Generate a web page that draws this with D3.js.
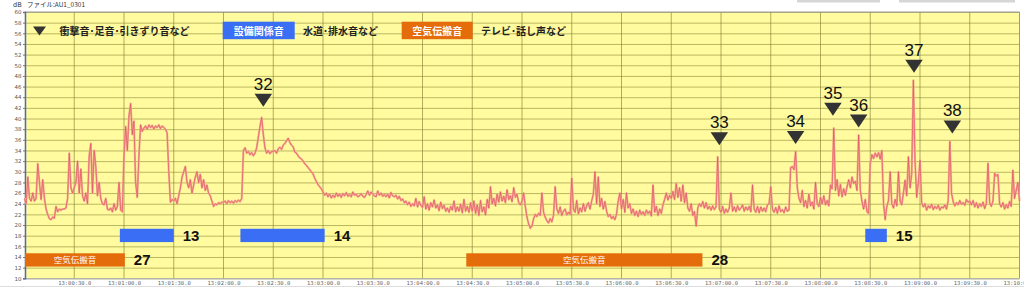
<!DOCTYPE html>
<html>
<head>
<meta charset="utf-8">
<script src="https://cdn.jsdelivr.net/npm/d3@7"></script>
<style>
  html, body { margin: 0; padding: 0; background: #fff; }
  svg { display: block; }
</style>
</head>
<body>
<svg id="chart"></svg>
<script>
"use strict";

// =================== DATA ===================
// sound level (dB), one value per second from 13:00:00
const levels = [
  25,24,29,25,24.5,26,24.5,25,31.5,28,24.8,28.5,25,23,22,21.2,21,21.5,21.3,23.5,22.5,23,22.8,23,23,23.2,25,33.5,27,26,
  27,28,32,26,30.5,25.5,24.5,26,24,33,35.3,26,34,31,25.5,28,25,24,23.8,25,23,22.8,23.2,22.5,24,22.8,23.5,28,22.8,22.5,
  33,38.5,34,40.5,42.8,37,39.5,28,25.2,33,38.8,37.6,38.2,38.6,38,38.8,38.3,38.7,38,38.6,38.3,38.8,38.1,38.6,38.3,38,37.3,30,24.3,24.8,
  24.5,25,24,25.5,27,29,30,31,28,27,28.5,26,27.5,29,30,28,29.5,27,28.5,26.5,27.5,26,25.5,24.5,23.5,24,23.8,24.2,24,24.3,
  24.3,24.5,24,24.6,24.2,24.5,24.1,24.6,24.3,24.7,24.4,25,34,34.5,33.5,33.8,33.2,33.6,33,33.5,34.5,36.5,38.5,40.2,37,34.5,33.5,34,33.4,33.8,
  33.8,34,33.5,34.3,34.6,34.2,35,35.3,35.8,36.3,35.5,35,34.7,33.7,33.5,33,32.6,32.4,32,31.5,31.2,30.8,30.4,30,29.6,28.8,28.2,27.6,27.2,26.8,
  26.2,25.6,26,25.3,25.8,25.1,25.6,25.2,26,25.4,25.8,25.2,25.9,25.5,26.1,25.4,25.7,25.3,26.2,25.6,25.8,25.3,25.5,25.9,25.4,25.2,25.7,26.4,25.6,26.2,
  25.8,25.5,25.3,26.4,25.6,26,25.4,25.7,25.3,25.8,25.1,26.1,25.5,25.3,25.6,24.9,25.4,24.6,24.9,24.2,24.5,23.8,24.3,23.5,24,23.6,25,23.4,24.4,23.7,
  23.3,25.3,23,24,22.8,24.2,23.4,24.7,23.2,23.8,22.7,24.3,23.1,23.7,22.6,23.2,22.4,23.5,22.8,24.5,22.5,23.4,22.6,23.9,22.3,24.8,22.6,23.5,22.4,24.2,
  22.6,24.5,22.2,23.8,21.8,24.6,22.5,23.4,21.9,24.8,23.2,27.2,24,25,23.6,25.8,24.3,26.2,24.5,25.4,24.2,26.6,24.8,25.5,24.4,27,25.2,25.8,24.2,23.8,
  24.5,26,23.5,21.5,20.2,19.4,19.8,21.2,22,21.6,22.2,21.8,26,22.4,21.5,20.8,20.4,21.2,20.6,21.8,27.2,23,22.2,23.4,21.8,22.6,23,21.9,22.4,22,
  28.8,23,22.4,24.6,22.1,23.2,22.5,24,22.6,23.6,24.2,23,24.5,25.8,30,24,29,23.5,25,23,24.4,22.6,21.6,22,21.2,21.6,21,22,24.5,26,
  23,24.8,22.4,26,23.2,24,22.2,23,21.8,22.6,21.6,22.8,22,22.5,21.8,22.8,22.2,22.6,21.7,27.5,22.4,23.5,21.8,23,22.2,23.8,24.8,26,24.7,25.6,
  25,26.3,24.8,27.8,25.2,27,24.5,27.5,24.2,26,23.2,22.6,24,21.8,22.5,19.8,23.2,24,23.5,24.4,23.2,24.2,23,23.5,22.8,23.6,22.9,23.4,32.8,23,
  22.4,23.5,22.2,23,22.4,23.2,26,22.6,23.4,22.5,23.6,22.8,23.2,23.8,22.6,23.4,22.8,23.5,22.5,27.5,23,22.4,23.5,22.3,23.4,22.6,23.2,22.5,23.8,24,
  27.2,23,22.4,23.3,22.2,23.6,22.5,22.9,22.3,23.4,22.6,22.8,30.8,31,30.4,33.8,27,25,24.2,26.5,23.5,24.6,23.2,25.8,23.6,24.3,23,28,24,23.5,
  25.2,24,25.5,23.8,24.6,23.6,27.5,26.8,38.2,26.5,28.5,25.5,27.6,25.3,26.8,25.6,27.2,28.5,27,29,27.8,28.2,26.5,36.9,26.5,24.5,23,24.8,22.5,22.2,
  31.5,33.2,32.5,33.5,32.8,33.6,32.4,34,24,21,23.5,24.6,30,24,23.2,24.8,23.6,30,24.5,23.8,26,28.4,25.5,32.8,27,29.5,47.2,32,25.2,28,
  32.2,24.2,23.4,24,22.8,23.6,23.2,23.9,22.9,23.5,23.1,23.7,22.8,23.4,23.2,23.8,23,24.6,35.7,26,24.4,23.6,24.2,23.8,24.6,23.9,24.2,23.7,24.8,24.3,
  24.5,23.8,24.6,23.4,24.2,23.2,24,23.5,24.3,23.1,24,31.6,24.2,23.5,24.5,29.7,29.2,29.5,24,23.4,24.2,23,23.8,23.2,24.4,23.5,30.3,25,26.5,28,
  24.5
];

// x tick labels, one every 30 s
const xTickLabels = [
  "13:00:30.0","13:01:00.0","13:01:30.0","13:02:00.0","13:02:30.0","13:03:00.0","13:03:30.0",
  "13:04:00.0","13:04:30.0","13:05:00.0","13:05:30.0","13:06:00.0","13:06:30.0","13:07:00.0",
  "13:07:30.0","13:08:00.0","13:08:30.0","13:09:00.0","13:09:30.0","13:10:00.0"
];
const xTickSeconds = [30,60,90,120,150,180,210,240,270,300,330,360,390,420,450,480,510,540,570,600];

// impact-sound markers (id, second, level of the tip)
const markerIds = [32, 33, 34, 35, 36, 37, 38];
const markerSeconds = [144, 419, 465, 487.5, 503, 536.4, 559.5];
const markerLevels = [42.2, 35.0, 35.2, 40.5, 38.3, 48.6, 37.2];

// event bars: kind, start s, end s, label
const barKinds = ["equip", "equip", "equip", "air", "air"];
const barStarts = [57.5, 130.2, 507, 0.3, 266.4];
const barEnds = [90, 181, 520, 60.5, 408.8];
const barLabels = ["13", "14", "15", "27", "28"];

// legend
const legendItems = [
  { kind: "impact", text: "衝撃音･足音･引きずり音など" },
  { kind: "equip", box: "設備関係音", text: "水道･排水音など" },
  { kind: "air", box: "空気伝搬音", text: "テレビ･話し声など" }
];

// =================== SETUP ===================
const W = 1024, H = 287;
const plot = { left: 24.5, right: 1019.5, top: 12, bottom: 278.3 };
const BLUE = "#3a6ef5", ORANGE = "#e46c0a";
const CJK = "'Noto Sans CJK JP', 'Noto Sans', sans-serif";

const svg = d3.select("#chart").attr("width", W).attr("height", H);

const x = d3.scaleLinear().domain([0, 600]).range([plot.left, plot.right]);
const y = d3.scaleLinear().domain([10, 60]).range([plot.bottom, plot.top]);

// header text
svg.append("text").attr("x", 13).attr("y", 7).style("font", "6.5px 'DejaVu Sans', sans-serif")
  .attr("fill", "#333").text("dB");
svg.append("text").attr("x", 27).attr("y", 7).style("font", `6.5px ${CJK}`)
  .attr("fill", "#333").text("ファイル:AU1_0301");

// faint scroll bars top right
svg.append("rect").attr("x", 797).attr("y", 0).attr("width", 83).attr("height", 2.5).attr("fill", "#d6d6d6");
svg.append("rect").attr("x", 899).attr("y", 0).attr("width", 116).attr("height", 2.5).attr("fill", "#d6d6d6");

// plot background
svg.append("rect")
  .attr("x", plot.left).attr("y", plot.top)
  .attr("width", plot.right - plot.left).attr("height", plot.bottom - plot.top)
  .attr("fill", "#fffb9e");

// grid
const yTicks = d3.range(10, 61, 2);
svg.append("g").selectAll("line").data(yTicks).enter().append("line")
  .attr("x1", plot.left).attr("x2", plot.right)
  .attr("y1", d => y(d) + 0.5).attr("y2", d => y(d) + 0.5)
  .attr("stroke", "#8c8a3a").attr("stroke-opacity", 0.6).attr("stroke-width", 1);

svg.append("g").selectAll("line").data(xTickSeconds.slice(0, -1)).enter().append("line")
  .attr("x1", d => x(d)).attr("x2", d => x(d))
  .attr("y1", plot.top).attr("y2", plot.bottom)
  .attr("stroke", "#7c7a30").attr("stroke-opacity", 0.6).attr("stroke-width", 1);

// frame
svg.append("line").attr("x1", plot.left).attr("x2", plot.right).attr("y1", plot.top).attr("y2", plot.top)
  .attr("stroke", "#999");
svg.append("line").attr("x1", plot.right).attr("x2", plot.right).attr("y1", plot.top).attr("y2", plot.bottom)
  .attr("stroke", "#999");
svg.append("line").attr("x1", plot.left).attr("x2", plot.right).attr("y1", plot.bottom + 0.5).attr("y2", plot.bottom + 0.5)
  .attr("stroke", "#aaa");

// y axis
const yAxis = d3.axisLeft(y).tickValues(yTicks).tickSize(2).tickPadding(1.5);
const gy = svg.append("g").attr("transform", `translate(${plot.left + 0.5},0)`).call(yAxis);
gy.select(".domain").attr("stroke", "#4a64e8").attr("stroke-width", 1.5);
gy.selectAll(".tick line").attr("stroke", "#777");
gy.selectAll("text").style("font", "5.5px 'DejaVu Sans', sans-serif").attr("fill", "#555");

// x axis (last label is cut by the window edge, as in the source)
const xAxis = d3.axisBottom(x).tickValues(xTickSeconds)
  .tickFormat((d, i) => xTickLabels[i]).tickSize(0).tickPadding(3);
const gx = svg.append("g").attr("transform", `translate(0,${plot.bottom})`).call(xAxis);
gx.select(".domain").remove();
gx.selectAll("text").style("font", "5.5px 'DejaVu Sans Mono', monospace").attr("fill", "#666");

// bottom strip
svg.append("line").attr("x1", 0).attr("x2", W).attr("y1", 286.5).attr("y2", 286.5).attr("stroke", "#ddd");

// =================== LEVEL LINE ===================
const line = d3.line().x((d, i) => x(i)).y(d => y(d));
svg.append("path").datum(levels).attr("d", line)
  .attr("fill", "none").attr("stroke", "#f4a88c").attr("stroke-width", 2).attr("stroke-linejoin", "round");
svg.append("path").datum(levels).attr("d", line)
  .attr("fill", "none").attr("stroke", "#dc3c60").attr("stroke-width", 0.6).attr("stroke-opacity", 0.85)
  .attr("stroke-linejoin", "round");

// =================== EVENT BARS ===================
const bandFor = k => k === "equip" ? [19.3, 16.8] : [14.7, 12.2];
barKinds.forEach((k, i) => {
  const band = bandFor(k);
  const y0 = y(band[0]), y1 = y(band[1]);
  svg.append("rect")
    .attr("x", x(barStarts[i])).attr("y", y0)
    .attr("width", x(barEnds[i]) - x(barStarts[i])).attr("height", y1 - y0)
    .attr("fill", k === "equip" ? BLUE : ORANGE);
  if (k === "air") {
    svg.append("text")
      .attr("x", (x(barStarts[i]) + x(barEnds[i])) / 2).attr("y", (y0 + y1) / 2 + 3)
      .attr("text-anchor", "middle").attr("fill", "#fff")
      .style("font", `8.5px ${CJK}`).text("空気伝搬音");
  }
  svg.append("text")
    .attr("x", x(barEnds[i]) + 9).attr("y", (y0 + y1) / 2 + 5.5)
    .attr("fill", "#111").style("font", "bold 15px 'Liberation Sans', Arial, sans-serif")
    .text(barLabels[i]);
});

// =================== MARKERS ===================
const triW = 17.5, triH = 13;
markerIds.forEach((id, i) => {
  const cx = x(markerSeconds[i]), tip = y(markerLevels[i]);
  svg.append("path")
    .attr("d", `M${cx - triW / 2},${tip - triH}L${cx + triW / 2},${tip - triH}L${cx},${tip}Z`)
    .attr("fill", "#333");
  svg.append("text")
    .attr("x", cx).attr("y", tip - triH - 4)
    .attr("text-anchor", "middle").attr("fill", "#111")
    .style("font", "17px 'Liberation Sans', Arial, sans-serif")
    .text(id);
});

// =================== LEGEND ===================
const legendY = 31;
// impact
svg.append("path")
  .attr("d", `M33,${legendY - 4.5}L46,${legendY - 4.5}L39.5,${legendY + 4.5}Z`).attr("fill", "#333");
svg.append("text").attr("x", 59.5).attr("y", legendY + 3.6)
  .style("font", `bold 10px ${CJK}`).attr("fill", "#222").text(legendItems[0].text);

const boxes = [
  { x0: 222.7, x1: 294.7, tx: 303, color: BLUE, item: legendItems[1] },
  { x0: 401.7, x1: 472.7, tx: 481, color: ORANGE, item: legendItems[2] }
];
boxes.forEach(b => {
  svg.append("rect").attr("x", b.x0).attr("y", 21.7).attr("width", b.x1 - b.x0).attr("height", 17.5)
    .attr("fill", b.color);
  svg.append("text").attr("x", (b.x0 + b.x1) / 2).attr("y", legendY + 3.6).attr("text-anchor", "middle")
    .style("font", `bold 10px ${CJK}`).attr("fill", "#fff").text(b.item.box);
  svg.append("text").attr("x", b.tx).attr("y", legendY + 3.6)
    .style("font", `bold 10px ${CJK}`).attr("fill", "#222").text(b.item.text);
});
</script>
</body>
</html>
